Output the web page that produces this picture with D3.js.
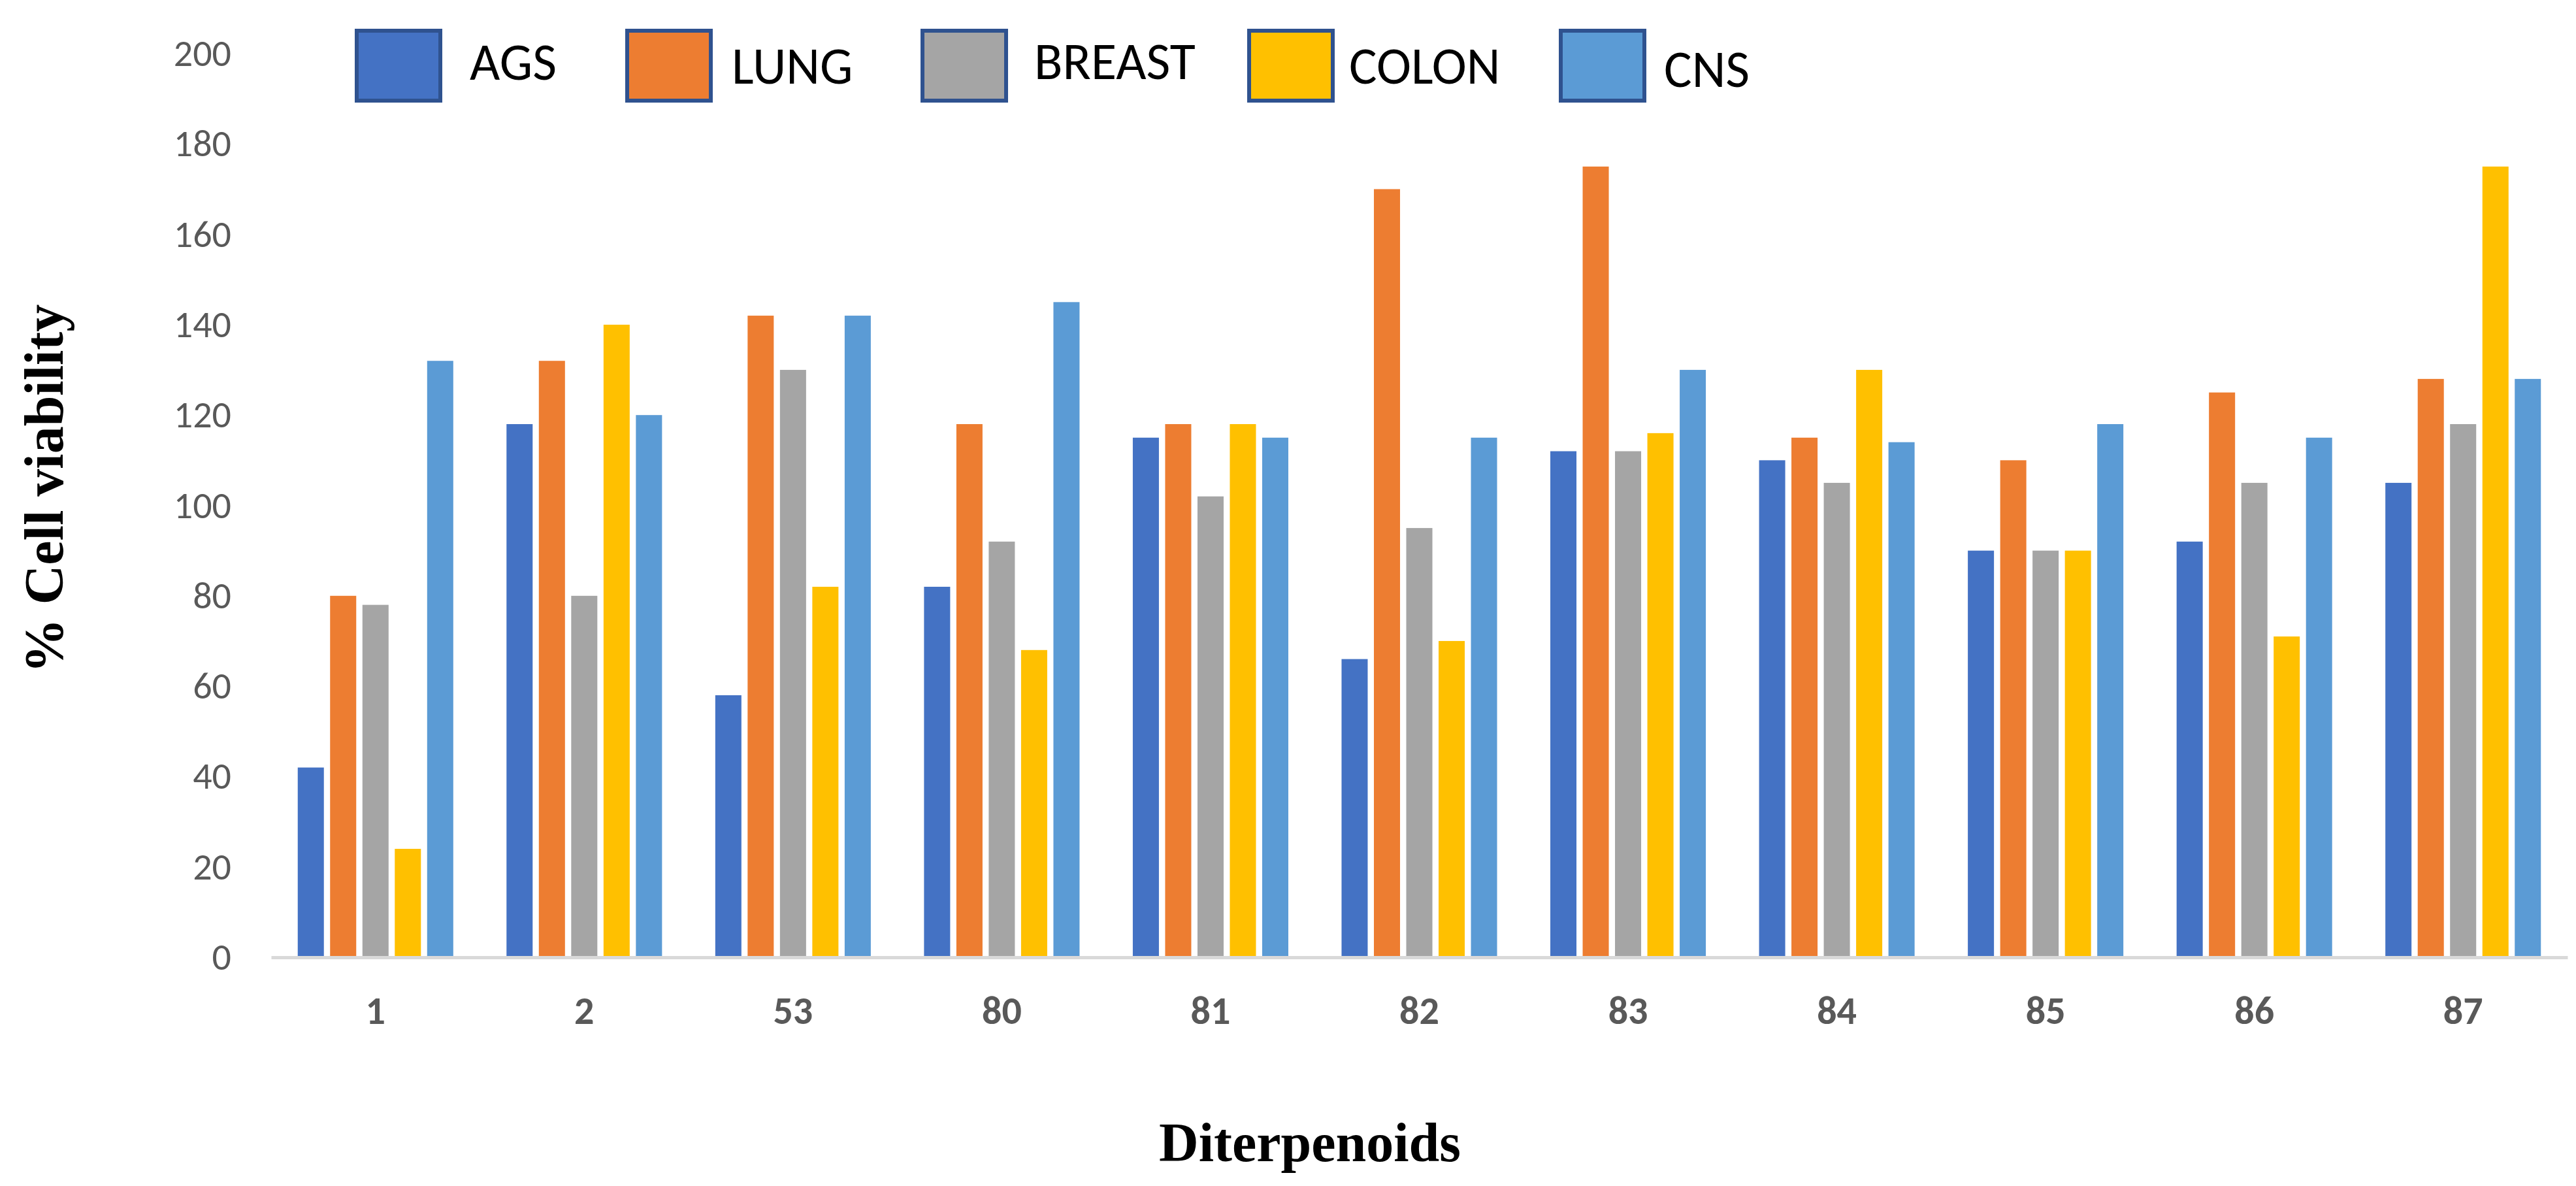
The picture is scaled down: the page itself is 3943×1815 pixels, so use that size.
<!DOCTYPE html>
<html>
<head>
<meta charset="utf-8">
<script src="https://cdn.jsdelivr.net/npm/d3@7"></script>
<style>
  body { margin: 0; background: #fff; }
  svg { display: block; }
</style>
</head>
<body>
<div id="chart"></div>
<script>
// compounds on the x axis
var categories = ["1", "2", "53", "80", "81", "82", "83", "84", "85", "86", "87"];
var seriesNames = ["AGS", "LUNG", "BREAST", "COLON", "CNS"];
var seriesColors = ["#4472C4", "#ED7D31", "#A5A5A5", "#FFC000", "#5B9BD5"];

// % cell viability, one array per cell line
var ags    = [42, 118, 58, 82, 115, 66, 112, 110, 90, 92, 105];
var lung   = [80, 132, 142, 118, 118, 170, 175, 115, 110, 125, 128];
var breast = [78, 80, 130, 92, 102, 95, 112, 105, 90, 105, 118];
var colon  = [24, 140, 82, 68, 118, 70, 116, 130, 90, 71, 175];
var cns    = [132, 120, 142, 145, 115, 115, 130, 114, 118, 115, 128];

var yTicks = [0, 20, 40, 60, 80, 100, 120, 140, 160, 180, 200];

var seriesValues = [ags, lung, breast, colon, cns];

var width = 3943, height = 1815;
var plotLeft = 415, plotRight = 3930, plotTop = 82, plotBottom = 1465;

var labelFont = "Calibri, Carlito, 'Liberation Sans Narrow', 'Open Sans', sans-serif";
var serifFont = "'Times New Roman', 'Liberation Serif', serif";

var svg = d3.select("#chart").append("svg")
    .attr("width", width).attr("height", height);

var x0 = d3.scaleBand().domain(categories)
    .range([plotLeft, plotRight])
    .paddingInner(0.255).paddingOuter(0.1275);
var x1 = d3.scaleBand().domain(seriesNames)
    .range([0, x0.bandwidth()])
    .paddingInner(0.192).paddingOuter(0);
var y = d3.scaleLinear().domain([0, 200]).range([plotBottom, plotTop]);
var color = d3.scaleOrdinal().domain(seriesNames).range(seriesColors);

// y axis: labels only
var yAxis = svg.append("g")
    .attr("transform", "translate(" + plotLeft + ",0)")
    .call(d3.axisLeft(y).tickValues(yTicks).tickSize(0).tickPadding(61));
yAxis.select(".domain").remove();
yAxis.selectAll("text")
    .attr("fill", "#595959")
    .style("font-family", labelFont)
    .style("font-size", "58px");

// bars
var rows = categories.map(function (c, i) {
    return { cat: c, vals: seriesNames.map(function (s, j) { return { key: s, v: seriesValues[j][i] }; }) };
});

svg.append("g").selectAll("g").data(rows)
    .enter().append("g")
    .attr("transform", function (d) { return "translate(" + x0(d.cat) + ",0)"; })
    .selectAll("rect").data(function (d) { return d.vals; })
    .enter().append("rect")
    .attr("x", function (d) { return x1(d.key); })
    .attr("y", function (d) { return y(d.v); })
    .attr("width", x1.bandwidth())
    .attr("height", function (d) { return y(0) - y(d.v); })
    .attr("fill", function (d) { return color(d.key); });

// x axis
var xAxis = svg.append("g")
    .attr("transform", "translate(0," + plotBottom + ")")
    .call(d3.axisBottom(x0).tickSize(0).tickSizeOuter(0));
xAxis.select(".domain").attr("stroke", "#D9D9D9").attr("stroke-width", 5);
xAxis.selectAll("text")
    .attr("y", 102).attr("dy", 0)
    .attr("fill", "#595959")
    .style("font-family", labelFont)
    .style("font-size", "60px")
    .style("font-weight", "bold");

// axis titles
svg.append("text")
    .attr("x", 2005).attr("y", 1777)
    .attr("text-anchor", "middle")
    .style("font-family", serifFont)
    .style("font-weight", "bold")
    .style("font-size", "84px")
    .text("Diterpenoids");

svg.append("text")
    .attr("transform", "translate(96,748) rotate(-90)")
    .attr("text-anchor", "middle")
    .style("font-family", serifFont)
    .style("font-weight", "bold")
    .style("font-size", "84px")
    .text("% Cell viability");

// legend (hand placed in the original, boxes with dark blue outline)
var legendX = [543, 957, 1409, 1909, 2386];
var legendTextX = [719, 1120, 1583, 2065, 2547];
var legendBase = [122, 128, 121, 128, 133];

var legend = svg.append("g").selectAll("g").data(seriesNames)
    .enter().append("g");
legend.append("rect")
    .attr("x", function (d, i) { return legendX[i] + 3; })
    .attr("y", 47)
    .attr("width", 128).attr("height", 107)
    .attr("fill", function (d) { return color(d); })
    .attr("stroke", "#2F528F").attr("stroke-width", 6);
legend.append("text")
    .attr("x", function (d, i) { return legendTextX[i]; })
    .attr("y", function (d, i) { return legendBase[i]; })
    .style("font-family", labelFont)
    .style("font-size", "80px")
    .attr("fill", "#000")
    .text(function (d) { return d; });
</script>
</body>
</html>
